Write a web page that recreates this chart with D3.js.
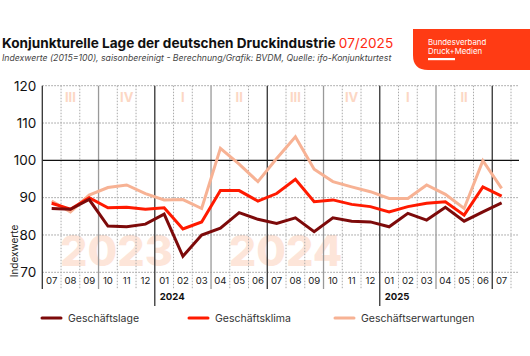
<!DOCTYPE html>
<html><head><meta charset="utf-8">
<script src="https://cdn.jsdelivr.net/npm/d3@7"></script>
<style>
html,body{margin:0;padding:0;background:#fff;}
svg{display:block;font-family:Inter, "Noto Sans", sans-serif;}
</style></head>
<body><svg id="c" width="530" height="356"></svg>
<script>
const months = ["2023-07","2023-08","2023-09","2023-10","2023-11","2023-12",
  "2024-01","2024-02","2024-03","2024-04","2024-05","2024-06",
  "2024-07","2024-08","2024-09","2024-10","2024-11","2024-12",
  "2025-01","2025-02","2025-03","2025-04","2025-05","2025-06","2025-07"];
const monthLabels = ["07","08","09","10","11","12","01","02","03","04","05","06",
  "07","08","09","10","11","12","01","02","03","04","05","06","07"];
const geschaeftslage = [87.1,86.9,89.5,82.4,82.2,82.9,85.6,74.3,80.0,81.8,86.0,84.2,
  83.1,84.6,80.9,84.6,83.7,83.5,82.2,85.8,84.0,87.4,83.7,86.2,88.6];
const geschaeftsklima = [88.5,86.9,90.0,87.3,87.4,86.9,87.3,81.6,83.5,91.9,91.9,89.1,
  91.1,94.9,88.9,89.4,88.2,87.6,86.2,87.6,88.5,88.9,85.3,92.9,90.4];
const geschaeftserwartungen = [89.1,86.2,90.7,92.7,93.4,91.1,89.4,89.5,87.1,103.2,99.0,94.3,
  100.5,106.3,97.6,94.3,92.9,91.6,89.8,89.8,93.4,90.9,87.1,99.9,92.5];
const seriesNames = ["Geschäftslage","Geschäftsklima","Geschäftserwartungen"];
const seriesColors = ["#7d0a0a","#ff1a00","#f7b294"];
const yTicks = [70,80,90,100,110,120];
const quarterLabels = ["III","IV","I","II","III","IV","I","II"];
const yearLabels = ["2024","2025"];
const watermarks = ["2023","2024"];
const watermarkMonths = ["2023-08","2024-05"];

const svg = d3.select("#c");
const L = 42.3, R = 511, T = 85.7, B = 272.3;
const x = d3.scaleBand().domain(months).range([L, R]).padding(0);
const y = d3.scaleLinear().domain([70,120]).range([B, T]);
const bw = x.bandwidth();

// title
const title = svg.append("text").attr("x",2).attr("y",48).attr("font-size",13.6).attr("font-weight",700).attr("fill","#111");
title.append("tspan").text("Konjunkturelle Lage der deutschen Druckindustrie ");
title.append("tspan").attr("font-weight",400).attr("fill","#ff2a12").text("07/2025");
svg.append("text").attr("x",2).attr("y",61).attr("font-size",8.7).attr("font-style","italic").attr("fill","#444")
  .text("Indexwerte (2015=100), saisonbereinigt - Berechnung/Grafik: BVDM, Quelle: ifo-Konjunkturtest");

// logo
svg.append("path").attr("d","M413,29 H530 V70 H428 Q413,70 413,55 Z").attr("fill","#ff3b14");
svg.append("text").attr("x",428).attr("y",45).attr("font-size",7.8).attr("fill","#fff").text("Bundesverband");
svg.append("text").attr("x",428).attr("y",53.5).attr("font-size",7.8).attr("fill","#fff").text("Druck+Medien");
svg.append("rect").attr("x",428).attr("y",58).attr("width",27).attr("height",2.2).attr("fill","#fff");

// watermarks
watermarks.forEach((w,i)=>{
  svg.append("text").attr("x", x(watermarkMonths[i]) - 1).attr("y",266)
    .attr("font-size",43).attr("font-weight",800).attr("fill","#fde5d9").text(w);
});
// quarter labels
quarterLabels.forEach((q,i)=>{
  svg.append("text").attr("x", x(months[i*3]) + bw*1.5).attr("y",102).attr("text-anchor","middle")
    .attr("font-size",13).attr("font-weight",700).attr("fill","#fcd7c4").text(q);
});

// horizontal grid
const grid = svg.append("g");
yTicks.filter(t=>t!==100).forEach(t=>{
  grid.append("line").attr("x1",L).attr("x2",R+8).attr("y1",y(t)).attr("y2",y(t))
    .attr("stroke","#999").attr("stroke-width",1).attr("stroke-dasharray","1.5,1.5");
});
// vertical grid
months.forEach((m,i)=>{
  if(i===0) return;
  const xv = x(m);
  const mm = +m.slice(5);
  let col="#aaa", dash="1.5,1.5", y2=289;
  if(mm===1){col="#333";dash=null;y2=306;}
  else if(mm===7){col="#333";dash=null;}
  else if(mm===4||mm===10){col="#999";dash=null;}
  const ln = grid.append("line").attr("x1",xv).attr("x2",xv).attr("y1",T).attr("y2",y2)
    .attr("stroke",col).attr("stroke-width",dash?1:1.3);
  if(dash) ln.attr("stroke-dasharray",dash);
});
grid.append("line").attr("x1",R).attr("x2",R).attr("y1",T).attr("y2",289)
  .attr("stroke","#aaa").attr("stroke-dasharray","1.5,1.5");
// 100 line
grid.append("line").attr("x1",L).attr("x2",R+8).attr("y1",y(100)).attr("y2",y(100)).attr("stroke","#111").attr("stroke-width",1.3);
// y axis line
grid.append("line").attr("x1",L).attr("x2",L).attr("y1",T).attr("y2",289).attr("stroke","#333").attr("stroke-width",1.3);

// y tick labels
const yAxis = d3.axisLeft(y).tickValues(yTicks).tickSize(0).tickPadding(6);
const ya = svg.append("g").attr("transform",`translate(${L},0)`).call(yAxis);
ya.select(".domain").remove();
ya.selectAll("text").attr("font-size",13.5).attr("fill","#111").attr("font-family","Inter, sans-serif");
svg.append("text").attr("transform","translate(18,251) rotate(-90)").attr("text-anchor","middle")
  .attr("font-size",10).attr("fill","#222").text("Indexwerte");

// month labels
const xAxis = d3.axisBottom(x).tickSize(0).tickPadding(5).tickFormat((d,i)=>monthLabels[i]);
const xa = svg.append("g").attr("transform",`translate(0,${B})`).call(xAxis);
xa.select(".domain").remove();
xa.selectAll("text").attr("font-size",9.6).attr("fill","#222").attr("font-family","Inter, sans-serif");
// year labels
yearLabels.forEach(yl=>{
  svg.append("text").attr("x", x(yl+"-01")+5).attr("y",300).attr("font-size",9.6).attr("font-weight",700)
    .attr("fill","#111").text(yl);
});

// lines
const data = [geschaeftslage, geschaeftsklima, geschaeftserwartungen];
const line = d3.line().x((d,i)=>x(months[i])+bw/2).y(d=>y(d));
[2,1,0].forEach(k=>{
  svg.append("path").attr("d",line(data[k])).attr("fill","none").attr("stroke",seriesColors[k])
    .attr("stroke-width",3).attr("stroke-linejoin","miter");
});

// legend
const legX = [42,189,335];
seriesNames.forEach((n,i)=>{
  svg.append("line").attr("x1",legX[i]).attr("x2",legX[i]+19).attr("y1",318).attr("y2",318)
    .attr("stroke",seriesColors[i]).attr("stroke-width",3).attr("stroke-linecap","round");
  svg.append("text").attr("x",legX[i]+26).attr("y",322).attr("font-size",10.5).attr("fill","#333").text(n);
});
</script></body></html>
